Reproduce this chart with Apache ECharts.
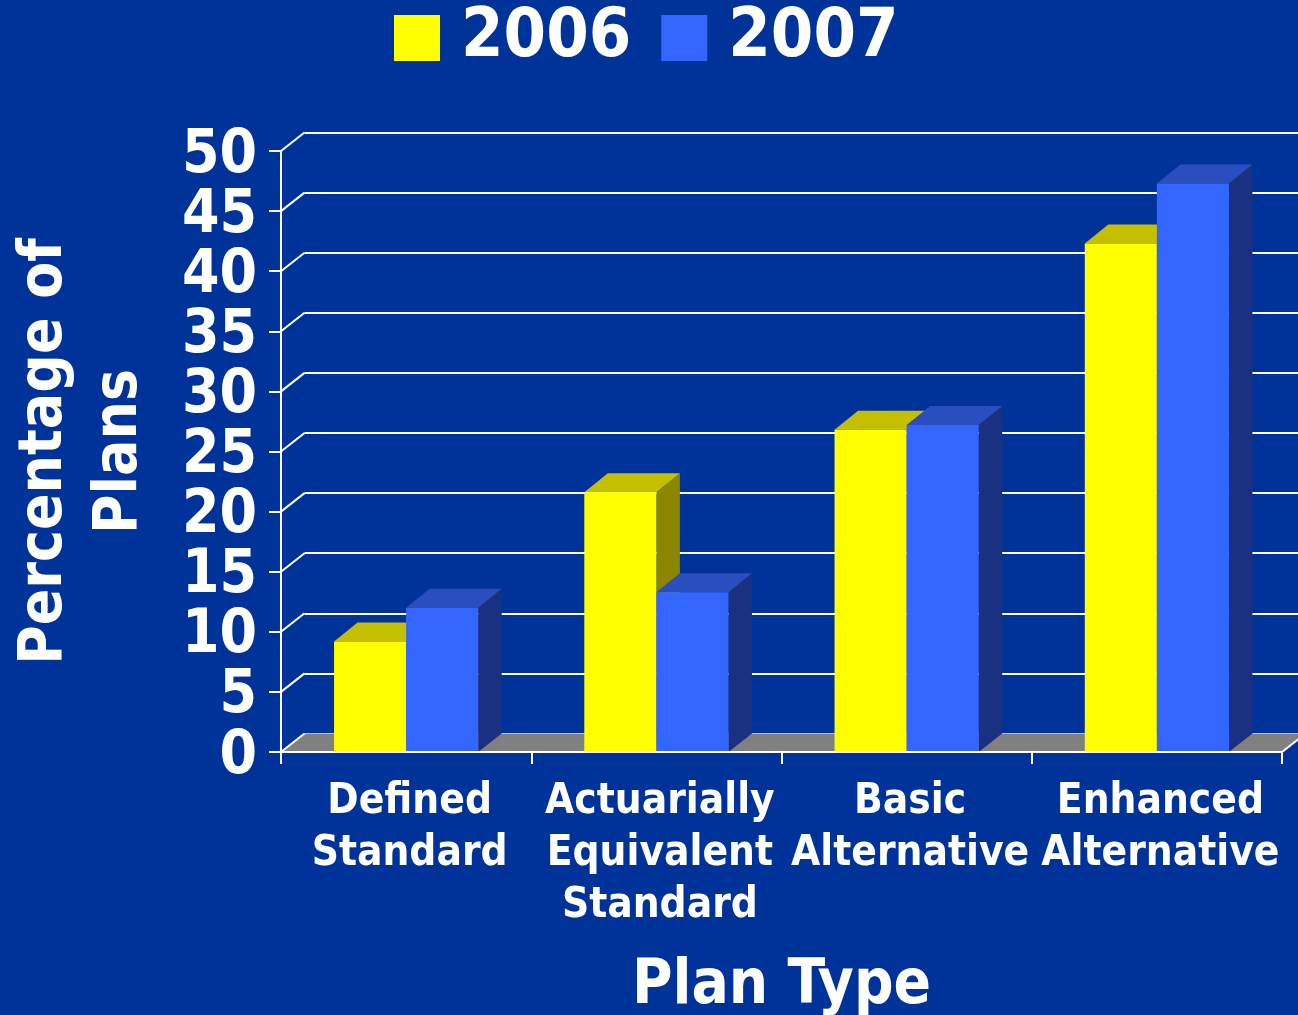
<!DOCTYPE html>
<html><head><meta charset="utf-8">
<style>html,body{margin:0;padding:0;background:#003399}#c{width:1298px;height:1015px}</style>
<script src="https://cdn.jsdelivr.net/npm/echarts@6/dist/echarts.min.js"></script>
</head><body><div id="c"></div>
<script>
const categories = ["Defined\nStandard", "Actuarially\nEquivalent\nStandard", "Basic\nAlternative", "Enhanced\nAlternative"];
const values2006 = [9.2, 21.6, 26.8, 42.3];
const values2007 = [12.0, 13.3, 27.2, 47.3];
const yTicks = [0, 5, 10, 15, 20, 25, 30, 35, 40, 45, 50];
const FONT = '"DejaVu Sans Condensed","DejaVu Sans",sans-serif';
const DX = 23.5, DY = 18.5, BAR_DY = 19;
function shade(front, top, side, offset) {
  return function (params, api) {
    const cat = api.value(0), val = api.value(1);
    const bw = api.size([1, 0])[0] * 0.288;
    const c = api.coord([cat, val]), b = api.coord([cat, 0]);
    const x0 = c[0] + offset * bw, x1 = x0 + bw, yt = c[1], yb = b[1];
    const poly = (pts, fill) => ({type: 'polygon', shape: {points: pts}, style: {fill: fill}});
    return {type: 'group', children: [
      poly([[x1, yb], [x1 + DX, yb - DY], [x1 + DX, yt - BAR_DY], [x1, yt]], side),
      poly([[x0, yt], [x0 + DX, yt - BAR_DY], [x1 + DX, yt - BAR_DY], [x1, yt]], top),
      poly([[x0, yb], [x0, yt], [x1, yt], [x1, yb]], front)
    ]};
  };
}
function barData(vals) { return vals.map((v, i) => [i, v]); }
const option = {
  backgroundColor: '#003399',
  animation: false,
  legend: {
    data: ['2006', '2007'], left: 394, top: 4, padding: 0, itemWidth: 46, itemHeight: 46, itemGap: 30,
    icon: 'rect',
    textStyle: {color: '#fff', fontFamily: FONT, fontWeight: 'bold', fontSize: 68, lineHeight: 46, padding: [10, 0, 0, 16]}
  },
  grid: [
    {left: 281, top: 151, width: 1001, height: 601, outerBoundsMode: 'none', containLabel: false},
    {left: 304.5, top: 132.5, width: 1060, height: 601, outerBoundsMode: 'none', containLabel: false},
    {left: 281, top: 156, width: 1001, height: 601, outerBoundsMode: 'none', containLabel: false}
  ],
  xAxis: [
    {type: 'category', gridIndex: 0, data: categories, z: 5,
     axisLine: {lineStyle: {color: '#fff', width: 2}},
     axisTick: {show: true, length: 12, lineStyle: {color: '#fff', width: 2}},
     axisLabel: {color: '#fff', fontFamily: FONT, fontWeight: 'bold', fontSize: 42, lineHeight: 52, margin: 24, interval: 0, padding: [0, 0, 0, 7]},
     name: 'Plan Type', nameLocation: 'middle', nameGap: 204,
     nameTextStyle: {color: '#fff', fontFamily: FONT, fontWeight: 'bold', fontSize: 61.5}},
    {type: 'category', gridIndex: 1, data: categories, show: false},
    {type: 'category', gridIndex: 2, data: categories, show: false}
  ],
  yAxis: [
    {type: 'value', gridIndex: 0, min: 0, max: 50, interval: 5, splitLine: {show: false},
     axisLine: {show: true, lineStyle: {color: '#fff', width: 2}},
     axisTick: {show: true, length: 12, lineStyle: {color: '#fff', width: 2}},
     axisLabel: {show: false},
     name: 'Percentage of\nPlans', nameLocation: 'middle', nameGap: 123, nameRotate: 90,
     nameTextStyle: {color: '#fff', fontFamily: FONT, fontWeight: 'bold', fontSize: 60, lineHeight: 75}},
    {type: 'value', gridIndex: 1, min: 0, max: 50, interval: 5,
     axisLine: {show: false}, axisTick: {show: false}, axisLabel: {show: false},
     splitLine: {show: true, showMinLine: true, showMaxLine: true, lineStyle: {color: '#fff', width: 2}}},
    {type: 'value', gridIndex: 2, min: 0, max: 50, interval: 5, splitLine: {show: false},
     axisLine: {show: false}, axisTick: {show: false},
     axisLabel: {color: '#fff', fontFamily: FONT, fontWeight: 'bold', fontSize: 60, margin: 24, showMinLabel: true, showMaxLabel: true, hideOverlap: false}}
  ],
  series: [
    {type: 'custom', name: 'floor', xAxisIndex: 0, yAxisIndex: 0, z: 1, silent: true, data: [[0, 0]],
     renderItem: (p, api) => {
       const r = p.coordSys, yb = r.y + r.height, xr = r.x + r.width;
       return {type: 'polygon', shape: {points: [[r.x, yb], [r.x + DX, yb - DY], [xr + DX, yb - DY], [xr, yb]]}, style: {fill: '#808080'}};
     }, clip: false},
    {type: 'custom', name: 'wall', xAxisIndex: 0, yAxisIndex: 0, z: 2, silent: true, clip: false, data: yTicks.map(v => [0, v]),
     renderItem: (p, api) => {
       const y = api.coord([0, api.value(1)])[1], x = p.coordSys.x;
       return {type: 'line', shape: {x1: x, y1: y, x2: x + DX, y2: y - DY}, style: {stroke: '#fff', lineWidth: 2}};
     }},
    {type: 'custom', name: 'wallEnd', xAxisIndex: 0, yAxisIndex: 0, z: 2, silent: true, clip: false, data: [[3, 0]],
     renderItem: (p, api) => {
       const y = api.coord([0, 0])[1], x = p.coordSys.x + p.coordSys.width;
       return {type: 'line', shape: {x1: x, y1: y, x2: x + DX, y2: y - DY}, style: {stroke: '#fff', lineWidth: 2}};
     }},
    {type: 'custom', name: '2006', xAxisIndex: 0, yAxisIndex: 0, z: 3, clip: false, itemStyle: {color: '#FFFF00'},
     data: barData(values2006), renderItem: shade('#FFFF00', '#C4C000', '#8A8600', -1)},
    {type: 'custom', name: '2007', xAxisIndex: 0, yAxisIndex: 0, z: 4, clip: false, itemStyle: {color: '#3366FF'},
     data: barData(values2007), renderItem: shade('#3366FF', '#2A4DBF', '#1A3080', 0)}
  ]
};
echarts.init(document.getElementById('c'), null, {renderer: 'canvas'}).setOption(option);
</script></body></html>
